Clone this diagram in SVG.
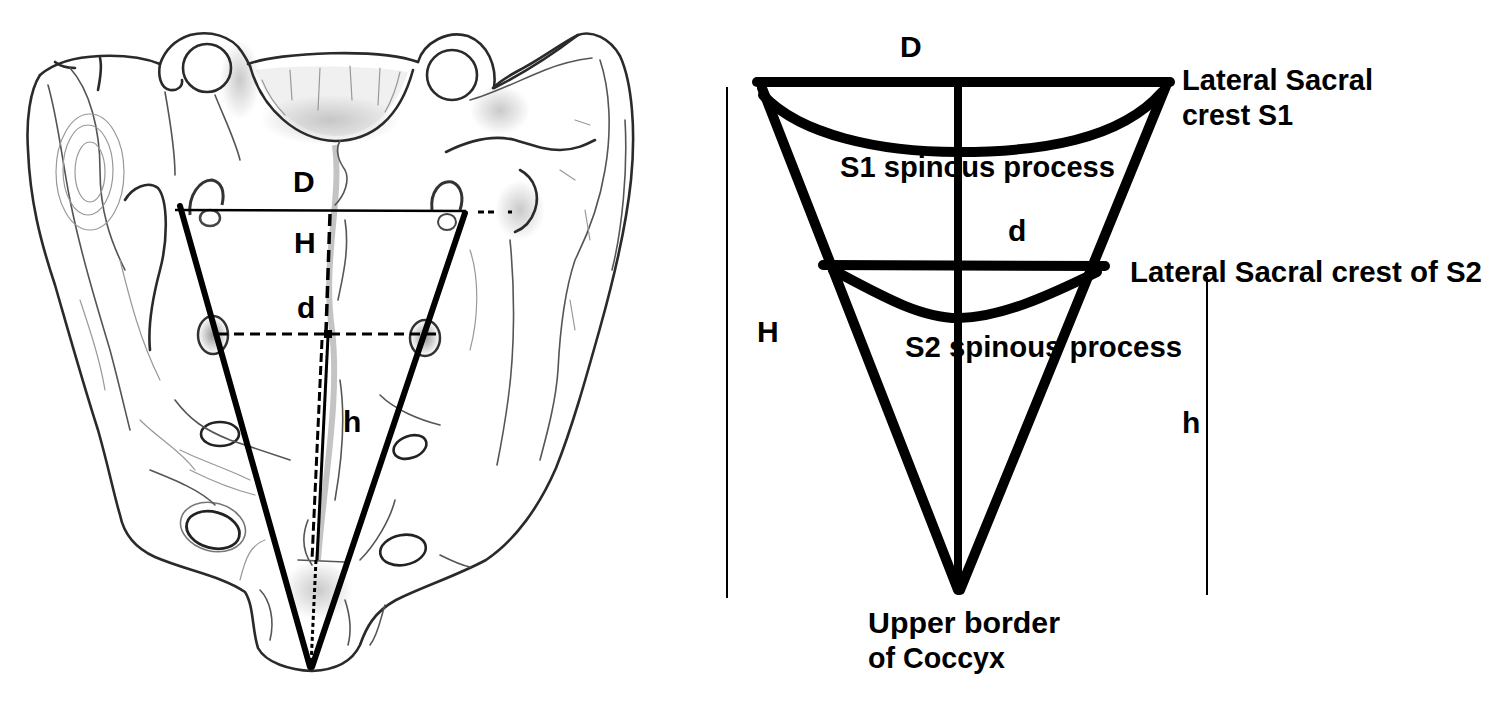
<svg xmlns="http://www.w3.org/2000/svg" width="1511" height="703" viewBox="0 0 1511 703">
<defs>
<style>
.lbl{font-family:"Liberation Sans",Arial,sans-serif;font-weight:bold;font-size:30px;fill:#000}
.bone{fill:none;stroke:#2a2a2a;stroke-width:2.6;stroke-linecap:round;stroke-linejoin:round}
.sk{fill:none;stroke:#555;stroke-width:1.6;stroke-linecap:round}
.lt{fill:none;stroke:#999;stroke-width:1.2;stroke-linecap:round}
.thick{fill:none;stroke:#000;stroke-width:10;stroke-linecap:round;stroke-linejoin:round}
.thin{fill:none;stroke:#000;stroke-width:2}
.meas{fill:none;stroke:#000;stroke-width:6;stroke-linecap:round}
</style>
<radialGradient id="shade" cx="0.5" cy="0.5" r="0.5">
<stop offset="0" stop-color="#000" stop-opacity="0.4"/>
<stop offset="1" stop-color="#000" stop-opacity="0"/>
</radialGradient>
<radialGradient id="soft" cx="0.5" cy="0.5" r="0.5">
<stop offset="0" stop-color="#666" stop-opacity="0.35"/>
<stop offset="1" stop-color="#666" stop-opacity="0"/>
</radialGradient>
</defs>
<rect width="1511" height="703" fill="#fff"/>

<g id="sacrum-drawing">
<!-- soft shading -->
<ellipse cx="318" cy="590" rx="35" ry="30" fill="url(#soft)"/>
<ellipse cx="330" cy="120" rx="70" ry="25" fill="url(#soft)"/>
<ellipse cx="240" cy="80" rx="20" ry="40" fill="url(#soft)"/>
<ellipse cx="500" cy="110" rx="30" ry="25" fill="url(#soft)"/>
<ellipse cx="520" cy="210" rx="25" ry="30" fill="url(#soft)"/>
<!-- outer outline -->
<path class="bone" d="M40,75 C30,90 26,120 28,150 C30,200 40,240 55,285 C68,330 82,380 98,430 C108,465 114,495 120,515 C124,535 135,548 155,557 C185,570 222,576 245,592 C254,606 252,630 258,648 C266,663 290,670 312,671 C335,670 352,662 360,645 C366,628 374,612 396,600 C422,587 456,576 486,560 C516,540 540,505 556,468 C572,428 586,378 600,328 C614,278 626,228 631,180 C636,130 632,82 620,56 C610,38 592,30 578,35 C560,44 540,60 516,72 C505,78 498,83 493,88"/>
<!-- left ala top -->
<path class="bone" d="M40,75 C55,62 75,57 100,56 C125,55 145,58 160,64"/>
<path class="bone" d="M55,62 C60,66 68,68 75,68"/>
<path class="bone" d="M100,58 C102,66 100,80 98,90"/>
<!-- small lobe + left superior articular process -->
<path class="bone" d="M160,64 C158,75 160,88 170,90 C178,91 183,86 182,80"/>
<path class="bone" d="M160,64 C165,50 175,40 190,35 C210,30 232,36 242,52 C246,58 248,62 250,66"/>
<circle class="bone" cx="207" cy="68" r="24"/>
<!-- body (base of S1) -->
<path class="bone" d="M248,64 C280,52 380,48 418,62"/>
<path class="bone" d="M250,66 C262,110 298,140 335,141 C372,141 400,118 413,70"/>
<path d="M256,70 C268,108 300,134 335,136 C368,136 394,114 408,72 C380,66 290,64 256,70 Z" fill="#bbb" fill-opacity="0.22"/>
<path class="lt" d="M262,80 C268,95 275,105 285,115 M290,70 L292,100 M320,68 L318,110 M350,66 L352,100 M380,68 L378,105 M400,72 C396,90 392,100 385,112"/>
<path class="sk" d="M340,141 C335,150 338,160 345,170 C350,180 345,195 335,205"/>
<!-- right superior articular process -->
<path class="bone" d="M418,62 C424,42 448,30 468,36 C488,44 497,66 494,88"/>
<circle class="bone" cx="452" cy="75" r="25"/>
<!-- right ala top edge and inner lines -->
<path class="bone" d="M494,88 C522,74 548,58 578,35"/>
<path class="sk" d="M470,100 C490,95 520,80 545,70 C560,64 575,60 592,58"/>
<path class="sk" d="M600,60 C610,90 612,130 605,170 C600,200 590,230 575,260 C565,290 560,330 558,370 C556,400 548,430 540,460"/>
<path class="sk" d="M625,120 C628,170 622,230 612,270"/>
<path class="bone" d="M446,152 C470,140 495,135 515,140 C535,146 545,150 560,150 C575,150 585,145 595,140"/>
<path class="bone" d="M520,170 C535,178 540,195 535,210 C530,225 520,230 515,232"/>
<path class="sk" d="M510,240 C515,290 515,350 508,400 C504,430 500,450 497,465"/>
<path class="lt" d="M575,120 L590,125 M560,170 L575,180 M585,210 L590,240 M570,300 L575,330 M470,250 C480,280 478,320 470,350"/>
<!-- left ala inner lines -->
<path class="sk" d="M48,85 C58,120 62,160 70,200 C80,250 95,300 110,350 C118,380 125,410 130,430"/>
<path class="sk" d="M70,68 C90,90 100,130 100,170 C100,210 110,240 125,270"/>
<ellipse class="lt" cx="88" cy="170" rx="25" ry="45"/>
<ellipse class="lt" cx="90" cy="172" rx="15" ry="30"/>
<ellipse class="lt" cx="90" cy="172" rx="34" ry="58"/>
<path class="bone" d="M125,200 C132,188 148,180 158,188 C168,200 168,240 160,270 C152,300 148,330 150,350"/>
<path class="sk" d="M165,92 C170,120 175,150 175,175"/>
<path class="sk" d="M215,95 C225,120 235,140 240,160"/>
<path class="lt" d="M120,260 C130,300 140,340 160,380 M80,300 C90,330 100,360 105,390 M140,420 C160,440 180,450 195,470"/>
<!-- S1 foramina -->
<path d="M190,215 C188,195 200,180 212,180 C222,182 225,192 222,205" fill="none" stroke="#333" stroke-width="3"/>
<ellipse cx="210" cy="218" rx="10" ry="8" fill="none" stroke="#444" stroke-width="2.5"/>
<path d="M432,210 C430,192 440,180 452,182 C462,186 464,198 460,210" fill="none" stroke="#333" stroke-width="3"/>
<ellipse cx="447" cy="222" rx="9" ry="8" fill="none" stroke="#444" stroke-width="2"/>
<!-- S2 foramina -->
<ellipse cx="213" cy="335" rx="15" ry="19" fill="url(#shade)" stroke="#333" stroke-width="2.5"/>
<ellipse cx="425" cy="338" rx="15" ry="18" fill="url(#shade)" stroke="#333" stroke-width="2.5"/>
<!-- S3 foramina -->
<ellipse cx="220" cy="434" rx="19" ry="12" fill="#fff" stroke="#222" stroke-width="2.6"/>
<ellipse cx="410" cy="447" rx="17" ry="11" transform="rotate(-20 410 447)" fill="#fff" stroke="#222" stroke-width="2.6"/>
<!-- S4 foramina -->
<ellipse cx="213" cy="530" rx="27" ry="18" transform="rotate(15 213 530)" fill="#fff" stroke="#222" stroke-width="2.8"/>
<ellipse cx="213" cy="527" rx="33" ry="24" transform="rotate(15 213 527)" fill="none" stroke="#777" stroke-width="1.6"/>
<ellipse cx="403" cy="550" rx="23" ry="15" transform="rotate(-10 403 550)" fill="#fff" stroke="#222" stroke-width="2.6"/>
<!-- lower lobes -->
<path class="sk" d="M150,470 C175,480 200,490 215,505"/>
<path class="sk" d="M175,400 C190,420 205,430 230,440 C260,450 275,455 290,460"/>
<path class="lt" d="M180,450 C200,460 230,470 250,480 M190,470 C210,480 235,490 255,495 M240,580 C245,560 250,545 265,540"/>
<path class="sk" d="M260,590 C270,600 275,620 270,640"/>
<path class="sk" d="M345,600 C350,615 352,630 348,645"/>
<path class="sk" d="M360,560 C375,545 390,520 395,500"/>
<path class="sk" d="M440,555 C450,560 460,565 470,567"/>
<path class="sk" d="M380,395 C395,410 420,420 440,425"/>
<path class="sk" d="M385,605 C380,620 378,635 370,645"/>
<!-- median crest -->
<path d="M335,145 C342,200 322,260 332,330 C340,400 324,480 318,560" fill="none" stroke="#555" stroke-width="6" stroke-opacity="0.35"/>
<path class="sk" d="M345,220 C350,250 342,280 338,300 M340,380 C346,420 342,460 335,500 M308,520 C300,540 305,555 312,565 M298,560 L345,562"/>
</g>

<g id="left-measure">
<line x1="175" y1="210" x2="466" y2="211" stroke="#000" stroke-width="2.6"/>
<path d="M478,212 L484,212 M488,212 L494,212 M508,212 L512,212" stroke="#000" stroke-width="3"/>
<line class="meas" x1="180" y1="206" x2="310" y2="667"/>
<line class="meas" x1="465" y1="213" x2="312" y2="667"/>
<line x1="218" y1="334" x2="438" y2="334" stroke="#000" stroke-width="3" stroke-dasharray="10,6"/>
<line x1="330" y1="214" x2="326" y2="332" stroke="#000" stroke-width="3.5" stroke-dasharray="12,6"/>
<rect x="324" y="330" width="8" height="8" fill="#000"/>
<line x1="328" y1="336" x2="317" y2="560" stroke="#000" stroke-width="3"/>
<line x1="322" y1="340" x2="312" y2="560" stroke="#000" stroke-width="3" stroke-dasharray="9,4"/>
<line x1="316" y1="560" x2="311" y2="665" stroke="#000" stroke-width="3" stroke-dasharray="4,3"/>
<text class="lbl" x="293" y="192">D</text>
<text class="lbl" x="294" y="253">H</text>
<text class="lbl" x="297" y="318">d</text>
<text class="lbl" x="343" y="432">h</text>
</g>

<g id="schematic-labels">
<text class="lbl" x="900" y="57">D</text>
<text class="lbl" x="1182" y="90" textLength="191" lengthAdjust="spacingAndGlyphs">Lateral Sacral</text>
<text class="lbl" x="1182" y="125" textLength="111" lengthAdjust="spacingAndGlyphs">crest S1</text>
<text class="lbl" x="840" y="177" textLength="275" lengthAdjust="spacingAndGlyphs">S1 spinous process</text>
<text class="lbl" x="1008" y="241">d</text>
<text class="lbl" x="1130" y="282" textLength="352" lengthAdjust="spacingAndGlyphs">Lateral Sacral crest of S2</text>
<text class="lbl" x="757" y="342">H</text>
<text class="lbl" x="905" y="357" textLength="277" lengthAdjust="spacingAndGlyphs">S2 spinous process</text>
<text class="lbl" x="1182" y="433">h</text>
<text class="lbl" x="868" y="633" textLength="192" lengthAdjust="spacingAndGlyphs">Upper border</text>
<text class="lbl" x="868" y="668" textLength="137" lengthAdjust="spacingAndGlyphs">of Coccyx</text>
</g>

<g id="connectors">
<line class="thin" x1="727" y1="87" x2="727" y2="598"/>
<line class="thin" x1="1207" y1="277" x2="1207" y2="595"/>
<line class="thick" x1="757" y1="82" x2="1170" y2="82"/>
<line class="thick" x1="762" y1="88" x2="958" y2="590"/>
<line class="thick" x1="1166" y1="86" x2="960" y2="590"/>
<line x1="958" y1="82" x2="958" y2="592" stroke="#000" stroke-width="8"/>
<path class="thick" d="M763,95 C800,135 880,152 958,152 C1040,152 1120,140 1162,92"/>
<line class="thick" x1="823" y1="265" x2="1105" y2="266"/>
<path class="thick" d="M833,270 C880,295 920,318 958,318 C1000,318 1050,295 1097,272"/>
</g>
</svg>
